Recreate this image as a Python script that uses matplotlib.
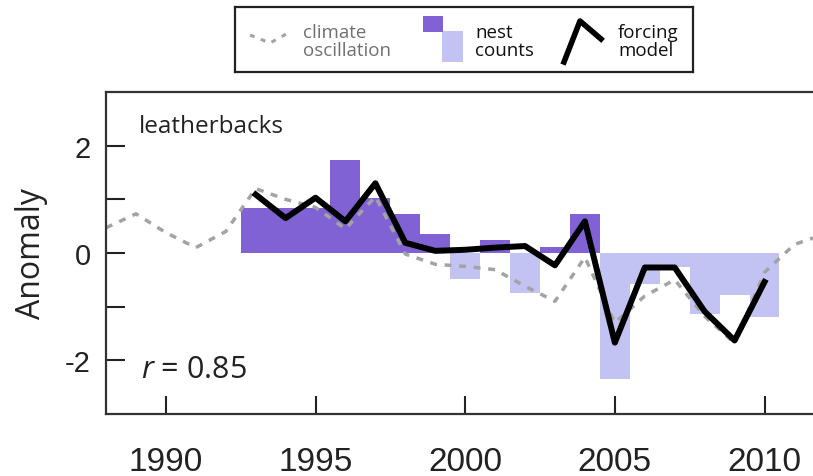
import matplotlib
matplotlib.use('Agg')
import matplotlib.pyplot as plt
from matplotlib.patches import Rectangle
from matplotlib.lines import Line2D
import numpy as np

TEXT_FONT = ['Open Sans', 'DejaVu Sans']
TICK_FONT = ['Liberation Sans Narrow', 'Liberation Sans', 'DejaVu Sans']
DARK_PURPLE = '#8162d4'
LIGHT_PURPLE = '#c3c3f3'
CLIMATE_GRAY = '#a3a3a3'

plt.rcParams['mathtext.fontset'] = 'custom'
plt.rcParams['mathtext.it'] = 'Open Sans:italic'
plt.rcParams['mathtext.rm'] = 'Open Sans'

# nest count anomalies (step bars, one per year)
bar_years = np.arange(1993, 2011)
nest_counts = [0.83, 0.83, 0.83, 1.74, 1.03, 0.72, 0.35, -0.49, 0.25, -0.75,
               0.11, 0.72, -2.34, -0.57, -0.26, -1.14, -0.79, -1.20]

# forcing model
forcing_model = [1.09, 0.65, 1.03, 0.59, 1.30, 0.19, 0.04, 0.06, 0.10, 0.13,
                 -0.23, 0.59, -1.67, -0.27, -0.27, -1.09, -1.63, -0.54]

# climate oscillation index
climate_years = np.arange(1988, 2013)
climate_osc = [0.47, 0.73, 0.38, 0.10, 0.40, 1.20, 1.00, 0.85, 0.45, 1.05,
               -0.02, -0.21, -0.25, -0.31, -0.62, -0.90, -0.08, -1.30, -0.80,
               -0.50, -1.18, -1.68, -0.36, 0.16, 0.35]

x_ticks = [1990, 1995, 2000, 2005, 2010]

W, H = 813, 477
fig = plt.figure(figsize=(W / 100, H / 100), dpi=100)
ax = fig.add_axes([106 / W, 1 - 415 / H, 1 - 106 / W, (415 - 93) / H])

colors = [DARK_PURPLE if v > 0 else LIGHT_PURPLE for v in nest_counts]
ax.bar(bar_years, nest_counts, width=1.0, color=colors, linewidth=0, zorder=1)
ax.plot(climate_years, climate_osc, color=CLIMATE_GRAY, lw=2.5,
        linestyle=(0, (2.0, 2.2)), zorder=2)
ax.plot(bar_years, forcing_model, color='black', lw=4.3, zorder=3)

ax.set_xlim(1988, 2011.62)
ax.set_ylim(-3, 3)
ax.set_xticks(x_ticks)
ax.set_xticklabels([str(t) for t in x_ticks], family=TICK_FONT, fontsize=24)
ax.set_yticks([-2, 0, 2])
ax.set_yticklabels(['-2', '0', '2'], family=TICK_FONT, fontsize=21)
ax.set_yticks([-1, 1], minor=True)
ax.tick_params(axis='x', direction='in', length=13, width=1.5, pad=23,
               colors='#222222')
ax.tick_params(axis='y', which='both', direction='in', length=14, width=1.5,
               pad=11, colors='#222222')
for side in ['left', 'top', 'bottom']:
    ax.spines[side].set_linewidth(1.6)
    ax.spines[side].set_color('#333333')
ax.spines['right'].set_visible(False)

ax.set_ylabel('Anomaly', family=TEXT_FONT, fontsize=23, color='#222222',
              labelpad=12)
ax.text(0.047, 0.893, 'leatherbacks', transform=ax.transAxes, family=TEXT_FONT,
        fontsize=17.5, va='center', ha='left', color='#222222')
ax.text(0.05, 0.14, '$r$ = 0.85', transform=ax.transAxes, family=TEXT_FONT,
        fontsize=22, va='center', ha='left', color='#222222')

# legend box drawn in pixel-like coordinates
lg = fig.add_axes([235 / W, 1 - 73 / H, (693 - 235) / W, (73 - 8) / H])
lg.set_xlim(235, 693)
lg.set_ylim(73, 8)
lg.set_xticks([])
lg.set_yticks([])
for s in lg.spines.values():
    s.set_linewidth(1.6)
    s.set_color('#222222')
lg.add_line(Line2D([250, 270, 290], [36, 44, 33], color=CLIMATE_GRAY, lw=2.2,
                   linestyle=(0, (1.6, 2.2))))
lg.text(303, 42, 'climate\noscillation', family=TEXT_FONT, fontsize=13.5,
        color='#707070', va='center', ha='left', linespacing=1.0)
lg.add_patch(Rectangle((442, 32), 21, 31, color=LIGHT_PURPLE, lw=0))
lg.add_patch(Rectangle((423, 17), 20, 16, color=DARK_PURPLE, lw=0))
lg.text(475, 42, 'nest\ncounts', family=TEXT_FONT, fontsize=13.5,
        color='#111111', va='center', ha='left', linespacing=1.0)
lg.add_line(Line2D([564, 580, 601], [63, 22, 40], color='black', lw=4.0))
lg.text(618, 42, 'forcing\nmodel', family=TEXT_FONT, fontsize=13.5,
        color='#111111', va='center', ha='left', linespacing=1.0)

fig.savefig('out.png', dpi=100)
